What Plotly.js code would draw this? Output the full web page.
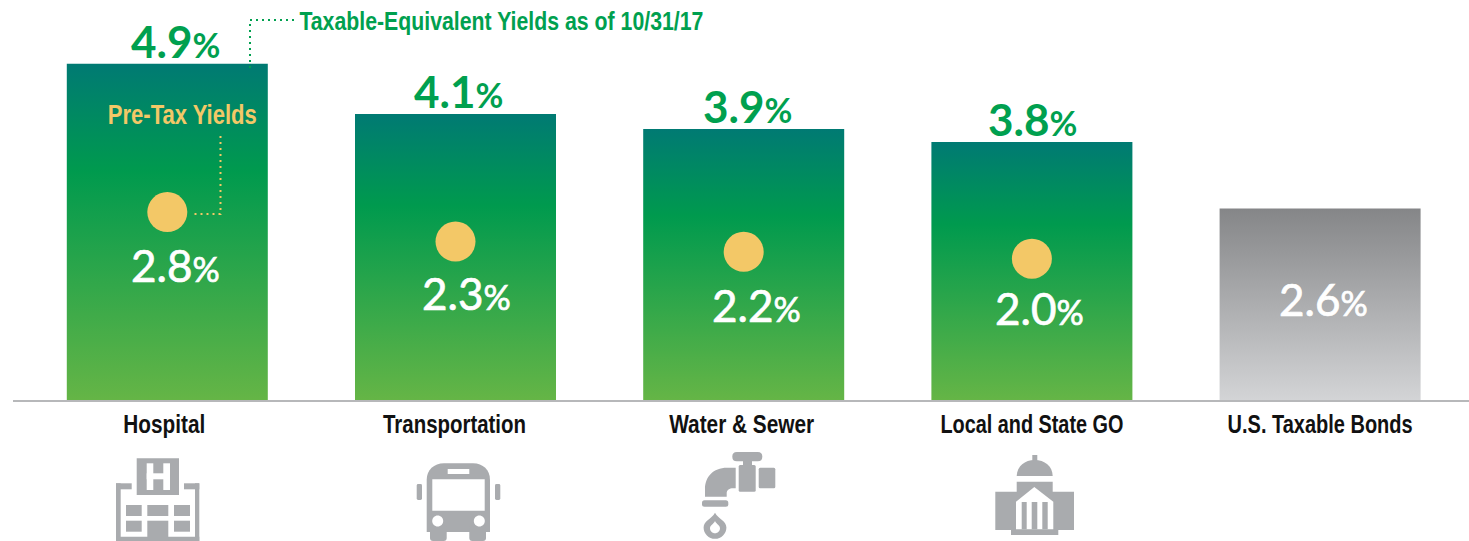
<!DOCTYPE html>
<html>
<head>
<meta charset="utf-8">
<script src="https://cdn.plot.ly/plotly-3.0.1.min.js"></script>
<style>html,body{margin:0;padding:0;background:#fff;overflow:hidden}</style>
</head>
<body>
<div id="chart" style="width:1469px;height:541px"></div>
<script>
// Data
const categories = ['Hospital', 'Transportation', 'Water & Sewer', 'Local and State GO', 'U.S. Taxable Bonds'];
// Bar heights as drawn in the reference (the drawn bars do not follow the printed labels exactly)
const barHeights = [4.9, 4.17, 3.95, 3.76, 2.79];
const preTaxDots = [2.74, 2.31, 2.16, 2.06, null];
const topLabels = ['4.9', '4.1', '3.9', '3.8', null];
const innerLabels = ['2.8', '2.3', '2.2', '2.0', '2.6'];

// Layout constants (page pixels)
const W = 1469, H = 541, BASE_Y = 400, LEFT = 13, X0 = 167.3, STEP = 288.2, PX_PER_UNIT = 68.6;
const GREEN = '#009a4e', GOLD = '#f3c867', ICON = '#a9abae', NARROW = '"Liberation Sans",sans-serif', ROUND = 'Lato,"Open Sans",sans-serif';
const topXShift = [8, 3, 4, 1, 0];
const innerXShift = [8, 11, 13, 8, 3];
const innerYShift = [-53, -51, -53, -49, -90];
const tickWidths = [82, 143, 145, 183, 185];
const tickDx = [-3, -1, -2, 0, 0];
const TITLE_WIDTH = 404, PRETAX_WIDTH = 149;

const toPaper = d => d.replace(/(-?[\d.]+),(-?[\d.]+)/g, (m, x, y) => (x / W).toFixed(6) + ',' + (1 - y / H).toFixed(6));
const solid = (d, c) => ({type: 'path', xref: 'paper', yref: 'paper', layer: 'above', path: toPaper(d), fillcolor: c, line: {width: 0}});
const leader = (d, c) => ({type: 'path', xref: 'paper', yref: 'paper', layer: 'above', path: toPaper(d), fillcolor: 'rgba(0,0,0,0)', line: {color: c, width: 2, dash: '2px,4px'}});
const rect = (x0, y0, x1, y1) => `M${x0},${y0} L${x1},${y0} L${x1},${y1} L${x0},${y1} Z`;
const rrect = (x0, y0, x1, y1, r) => `M${x0 + r},${y0} L${x1 - r},${y0} Q${x1},${y0} ${x1},${y0 + r} L${x1},${y1 - r} Q${x1},${y1} ${x1 - r},${y1} L${x0 + r},${y1} Q${x0},${y1} ${x0},${y1 - r} L${x0},${y0 + r} Q${x0},${y0} ${x0 + r},${y0} Z`;
const circ = (cx, cy, r) => { const k = r * 0.5523; return `M${cx - r},${cy} C${cx - r},${cy - k} ${cx - k},${cy - r} ${cx},${cy - r} C${cx + k},${cy - r} ${cx + r},${cy - k} ${cx + r},${cy} C${cx + r},${cy + k} ${cx + k},${cy + r} ${cx},${cy + r} C${cx - k},${cy + r} ${cx - r},${cy + k} ${cx - r},${cy} Z`; };
const drop = (cx, top, bottom, hw) => { const cy = bottom - hw; const k = hw * 0.5523; return `M${cx},${top} C${cx + hw * 0.3},${top + (cy - top) * 0.45} ${cx + hw},${cy - hw * 0.6} ${cx + hw},${cy} C${cx + hw},${cy + k} ${cx + k},${bottom} ${cx},${bottom} C${cx - k},${bottom} ${cx - hw},${cy + k} ${cx - hw},${cy} C${cx - hw},${cy - hw * 0.6} ${cx - hw * 0.3},${top + (cy - top) * 0.45} ${cx},${top} Z`; };

const shapes = [
  leader('M250,68 L250,20 L296,20', '#00a04f'),
  leader('M220.5,136 L220.5,214 L192,214', GOLD),
  // hospital
  solid(rect(136.7, 458.3, 179, 495), ICON),
  solid(rect(146.7, 463.3, 153.3, 490), '#fff'),
  solid(rect(163.3, 463.3, 170, 490), '#fff'),
  solid(rect(146.7, 473.3, 170, 479.3), '#fff'),
  solid(rect(116, 483.3, 120.7, 541), ICON),
  solid(rect(116, 483.3, 131.7, 489.3), ICON),
  solid(rect(195, 483.3, 199.3, 541), ICON),
  solid(rect(184, 483.3, 199.3, 489.3), ICON),
  solid(rect(116, 536.7, 199.3, 541), ICON),
  solid(rect(126, 505, 141.7, 516), ICON),
  solid(rect(147.3, 505, 168.3, 516), ICON),
  solid(rect(174, 505, 190, 516), ICON),
  solid(rect(126, 520.7, 141.7, 531.7), ICON),
  solid(rect(174, 520.7, 190, 531.7), ICON),
  solid(rect(147.3, 520.7, 168.3, 541), ICON),
  // bus
  solid(rrect(416.7, 484, 422, 500, 1.5), ICON),
  solid(rrect(495, 484, 500.3, 500, 1.5), ICON),
  solid('M426.7,532 L426.7,480 C426.7,470 434,463.3 444,463.3 L473,463.3 C483,463.3 490,470 490,480 L490,532 Z', ICON),
  solid(rrect(430, 525, 446.7, 541, 3), ICON),
  solid(rrect(469.3, 525, 486, 541, 3), ICON),
  solid(rect(432.3, 479.3, 484.7, 510.7), '#fff'),
  solid(rect(447.7, 469, 469.3, 474), '#fff'),
  solid(circ(437.7, 521, 5.5), '#fff'),
  solid(circ(479.3, 521, 5.5), '#fff'),
  // faucet
  solid(rrect(732.3, 452, 762.3, 461.3, 4.5), ICON),
  solid(rect(743, 460, 752, 466), ICON),
  solid(rrect(738.7, 465, 755.7, 491.7, 1.5), ICON),
  solid(rrect(758.7, 467.7, 775.3, 488.3, 1.5), ICON),
  solid('M735.7,467.7 L727,467.7 C713,467.7 705,477 705,489 L705,496.7 L726.7,496.7 L726.7,493 C726.7,490 729.5,488.3 733,488.3 L735.7,488.3 Z', ICON),
  solid(rrect(702, 500.3, 728.3, 506.7, 2.5), ICON),
  solid(drop(715, 512.7, 538.8, 11.4), ICON),
  solid(drop(715, 521, 533.3, 5), '#fff'),
  // capitol
  solid(rect(1032.3, 455, 1037.3, 462), ICON),
  solid('M1016.7,476 C1017,466 1025,460 1034.7,460 C1044.5,460 1052.5,466 1052.7,476 Z', ICON),
  solid(rect(1016.7, 481.7, 1052.7, 495), ICON),
  solid(rect(995.3, 491.7, 1074, 530), ICON),
  solid(rect(1011, 529, 1058.3, 535), ICON),
  solid('M1034.3,487 L1016,501.7 L1016,529.3 L1053.3,529.3 L1053.3,501.7 Z', '#fff'),
  solid(rect(1021.7, 502, 1026.7, 529.3), ICON),
  solid(rect(1031.7, 502, 1037.3, 529.3), ICON),
  solid(rect(1042.3, 502, 1047.7, 529.3), ICON)
];

const valueText = (v, size) => `${v}<span style="font-size:${size}px">%</span>`;
const annotations = [];
categories.forEach((c, i) => {
  if (topLabels[i] !== null) {
    annotations.push({x: c, y: barHeights[i], xref: 'x', yref: 'y', showarrow: false, borderpad: 0, yanchor: 'middle',
      xshift: topXShift[i], yshift: 23, text: valueText(topLabels[i], 34),
      font: {family: ROUND, size: 44, color: '#00a04f', weight: 700}});
  }
  const onBar = preTaxDots[i] !== null ? preTaxDots[i] : barHeights[i];
  annotations.push({x: c, y: onBar, xref: 'x', yref: 'y', showarrow: false, borderpad: 0, yanchor: 'middle',
    xshift: innerXShift[i], yshift: innerYShift[i], text: valueText(innerLabels[i], 34),
    font: {family: ROUND, size: 44, color: '#ffffff', weight: 400}});
});
annotations.push({xref: 'paper', yref: 'paper', x: 501 / W, y: 1 - 21 / H, xanchor: 'center', yanchor: 'middle', showarrow: false, borderpad: 0,
  text: 'Taxable-Equivalent Yields as of 10/31/17', font: {family: NARROW, size: 25, color: '#00a04f', weight: 700}});
annotations.push({xref: 'paper', yref: 'paper', x: 182.5 / W, y: 1 - 115 / H, xanchor: 'center', yanchor: 'middle', showarrow: false, borderpad: 0,
  text: 'Pre-Tax Yields', font: {family: NARROW, size: 27, color: GOLD, weight: 700}});

const traces = [
  {type: 'bar', x: categories, y: barHeights, hoverinfo: 'skip', cliponaxis: false,
   marker: {color: [GREEN, GREEN, GREEN, GREEN, '#a9abae'], line: {width: 0}}},
  {type: 'scatter', mode: 'markers', x: categories, y: preTaxDots, hoverinfo: 'skip',
   marker: {size: 40, color: GOLD, line: {width: 0}}}
];

const layout = {
  width: W, height: H, paper_bgcolor: '#fff', plot_bgcolor: '#fff', showlegend: false, hovermode: false,
  margin: {l: 0, r: 0, t: 0, b: 0, pad: 0}, bargap: 1 - 201 / STEP, shapes, annotations,
  xaxis: {domain: [LEFT / W, 1], type: 'category', categoryorder: 'array', categoryarray: categories,
    range: [-(X0 - LEFT) / STEP, (W - X0) / STEP], showgrid: false, zeroline: false, showline: true, linecolor: '#b7b8ba', linewidth: 2,
    ticks: '', ticklabelstandoff: 1, tickangle: 0, fixedrange: true, automargin: false,
    tickfont: {family: NARROW, size: 25, color: '#111', weight: 700}},
  yaxis: {domain: [(H - BASE_Y) / H, 1], range: [0, BASE_Y / PX_PER_UNIT], visible: false, fixedrange: true, automargin: false}
};

Plotly.newPlot('chart', traces, layout, {displayModeBar: false, staticPlot: true, responsive: false}).then(gd => {
  const svg = gd.querySelector('svg.main-svg');
  const NS = 'http://www.w3.org/2000/svg';
  const defs = svg.querySelector('defs') || svg.insertBefore(document.createElementNS(NS, 'defs'), svg.firstChild);
  const addGrad = (id, stops) => {
    const g = document.createElementNS(NS, 'linearGradient');
    g.setAttribute('id', id); g.setAttribute('x1', '0'); g.setAttribute('y1', '0'); g.setAttribute('x2', '0'); g.setAttribute('y2', '1');
    stops.forEach(([o, c]) => { const s = document.createElementNS(NS, 'stop'); s.setAttribute('offset', o); s.setAttribute('stop-color', c); g.appendChild(s); });
    defs.appendChild(g);
  };
  addGrad('gradGreen', [[0, '#007a73'], [0.32, '#009a4e'], [1, '#65b546']]);
  addGrad('gradGray', [[0, '#858688'], [1, '#d3d4d6']]);
  gd.querySelectorAll('.barlayer .point path').forEach((p, i) => {
    p.style.fill = i === categories.length - 1 ? 'url(#gradGray)' : 'url(#gradGreen)';
  });
  // Condense the bold labels to the reference's narrow set widths (text stays real text)
  const squeeze = (el, w) => { el.setAttribute('textLength', w); el.setAttribute('lengthAdjust', 'spacingAndGlyphs'); };
  gd.querySelectorAll('.xtick text').forEach((t, i) => { squeeze(t, tickWidths[i]); t.setAttribute('dx', tickDx[i]); });
  gd.querySelectorAll('.annotation-text').forEach(t => {
    const s = t.textContent;
    if (s.startsWith('Taxable')) squeeze(t, TITLE_WIDTH);
    else if (s.startsWith('Pre-Tax')) squeeze(t, PRETAX_WIDTH);
    else if (innerLabels.some(v => s === v + '%') && t.style.fill !== 'rgb(0, 160, 79)') {
      t.style.stroke = '#ffffff'; t.style.strokeWidth = '0.7px';
    }
  });
});
</script>
</body>
</html>
